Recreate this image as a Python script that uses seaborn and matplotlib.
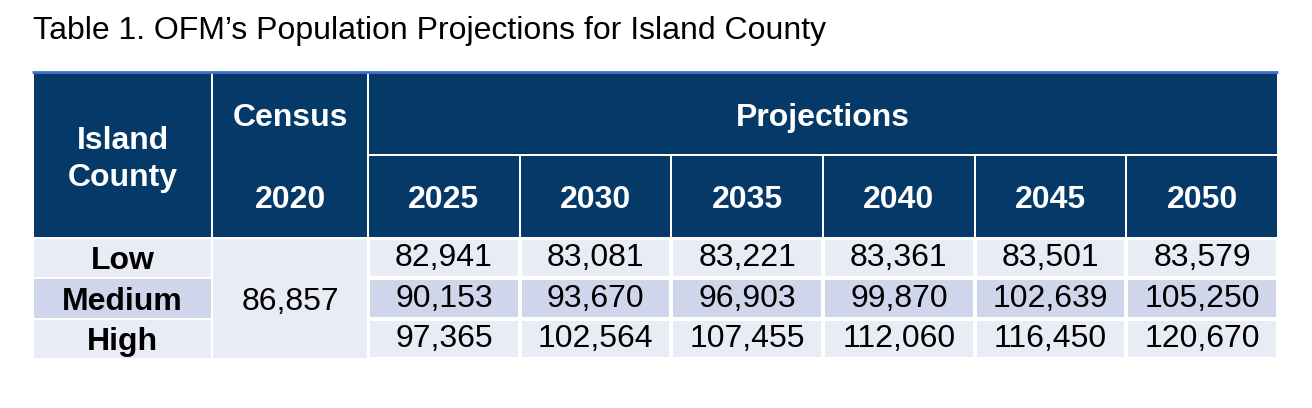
import numpy as np
import pandas as pd
import matplotlib
matplotlib.use("Agg")
import matplotlib.pyplot as plt
from matplotlib.patches import Rectangle
from matplotlib.colors import ListedColormap
import seaborn as sns

# data
title = "Table 1. OFM\u2019s Population Projections for Island County"
years = ["2025", "2030", "2035", "2040", "2045", "2050"]
series = ["Low", "Medium", "High"]
census_year = "2020"
census_2020 = 86857
low = [82941, 83081, 83221, 83361, 83501, 83579]
medium = [90153, 93670, 96903, 99870, 102639, 105250]
high = [97365, 102564, 107455, 112060, 116450, 120670]

df = pd.DataFrame([low, medium, high], index=series, columns=years)

# styles
navy = "#053968"
light = "#E9EBF5"
mid = "#CFD5EA"
rule = "#4472C4"
font = "Liberation Sans"

sns.set_theme(style="white")
plt.rcParams["font.family"] = [font, "DejaVu Sans"]

W, H = 1312, 408
fig = plt.figure(figsize=(W / 100, H / 100), dpi=100)
ax = fig.add_axes([0, 0, 1, 1])
ax.set_xlim(0, W)
ax.set_ylim(H, 0)
ax.axis("off")

# layout (pixels)
left = 33
col_w = [179, 156] + [910 / len(years)] * len(years)
xe = np.concatenate([[left], left + np.cumsum(col_w)])
y_top, y_mid, y_head = 73, 155, 238
row_h = 40.4
ye = y_head + row_h * np.arange(len(series) + 1)
g = 1.0


def cell(x0, x1, y0, y1, color):
    ax.add_patch(Rectangle((x0 + g, y0 + g), x1 - x0 - 2 * g, y1 - y0 - 2 * g,
                           facecolor=color, edgecolor="none"))


# title
ax.text(left, 39, title, fontsize=23, ha="left", va="baseline", color="black")

# top rule
ax.plot([xe[0] - 1, xe[-1]], [72, 72], color=rule, lw=2, solid_capstyle="butt")

hdr = dict(color="white", fontsize=23, fontweight="bold", ha="center", va="baseline")

# header
cell(xe[0], xe[1], y_top - g, y_head, navy)
ax.text((xe[0] + xe[1]) / 2, 149, "Island", **hdr)
ax.text((xe[0] + xe[1]) / 2, 186, "County", **hdr)
cell(xe[1], xe[2], y_top - g, y_head, navy)
ax.text((xe[1] + xe[2]) / 2, 126, "Census", **hdr)
ax.text((xe[1] + xe[2]) / 2, 208, census_year, **hdr)
cell(xe[2], xe[-1], y_top - g, y_mid, navy)
ax.text((xe[2] + xe[-1]) / 2, 126, "Projections", **hdr)
for j, yr in enumerate(years):
    cell(xe[2 + j], xe[3 + j], y_mid, y_head, navy)
    ax.text((xe[2 + j] + xe[3 + j]) / 2, 208, yr, **hdr)

# row labels and census cell
shade = [light, mid, light]
for i, name in enumerate(series):
    cell(xe[0], xe[1], ye[i], ye[i + 1], shade[i])
    ax.text((xe[0] + xe[1]) / 2, ye[i + 1] - 9, name, fontsize=23,
            fontweight="bold", ha="center", va="baseline", color="black")
cell(xe[1], xe[2], ye[0], ye[-1], light)
ax.text((xe[1] + xe[2]) / 2, ye[2] - 9, f"{census_2020:,}",
        fontsize=23, ha="center", va="baseline", color="black")

# projection body as a heatmap
hx0, hx1, hy0, hy1 = xe[2], xe[-1], ye[0], ye[-1]
hm_ax = fig.add_axes([hx0 / W, 1 - hy1 / H, (hx1 - hx0) / W, (hy1 - hy0) / H])
band = np.array([[i % 2] * len(years) for i in range(len(series))])
labels = df.map(lambda v: f"{v:,}").values
sns.heatmap(band, ax=hm_ax, cmap=ListedColormap([light, mid]), vmin=0, vmax=1,
            annot=labels, fmt="", cbar=False, linewidths=1.5, linecolor="white",
            xticklabels=False, yticklabels=False,
            annot_kws=dict(fontsize=23, color="black", family=font))
hm_ax.axis("off")

fig.savefig("out.png", dpi=100)
